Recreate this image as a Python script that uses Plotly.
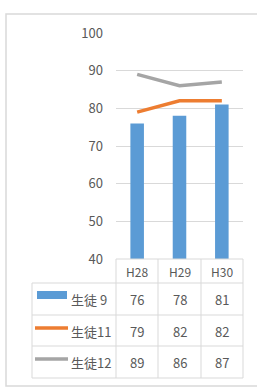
import plotly.graph_objects as go

categories = ["H28", "H29", "H30"]
series_names = ["生徒 9", "生徒11", "生徒12"]
s9 = [76, 78, 81]
s11 = [79, 82, 82]
s12 = [89, 86, 87]
y_ticks = [40, 50, 60, 70, 80, 90, 100]

W, H = 257, 392
def px(x): return x / W
def py(y): return 1 - y / H

GRID = "#d9d9d9"
TXT = "#595959"
BLUE = "#5B9BD5"
ORANGE = "#ED7D31"
GRAY = "#A5A5A5"
FONT = "Noto Sans CJK JP, Noto Sans, sans-serif"

x0, x1 = 116, 243
ytop, ybot = 33, 259

fig = go.Figure()
fig.add_trace(go.Bar(x=categories, y=s9, marker=dict(color=BLUE, line=dict(width=0)), name=series_names[0]))
fig.add_trace(go.Scatter(x=categories, y=s11, mode="lines", line=dict(color=ORANGE, width=3.5), name=series_names[1]))
fig.add_trace(go.Scatter(x=categories, y=s12, mode="lines", line=dict(color=GRAY, width=3.5), name=series_names[2]))

fig.update_layout(
    width=W, height=H, margin=dict(l=0, r=0, t=0, b=0, pad=0, autoexpand=False),
    paper_bgcolor="white", plot_bgcolor="white",
    showlegend=False, bargap=0.68,
    font=dict(family=FONT, color=TXT, size=13),
    xaxis=dict(domain=[px(x0), px(x1)], range=[-0.5, 2.5], showticklabels=False, automargin=False,
               showgrid=False, zeroline=False, showline=False, fixedrange=True),
    yaxis=dict(domain=[py(ybot), py(ytop)], range=[40, 100], tickvals=y_ticks, automargin=False,
               showgrid=True, gridcolor=GRID, gridwidth=1, zeroline=False, showline=False,
               ticks="", ticklabelstandoff=12, tickfont=dict(size=13, color=TXT), fixedrange=True),
)

shapes = []
def line(xa, ya, xb, yb, color=GRID, w=1):
    shapes.append(dict(type="line", xref="paper", yref="paper", x0=px(xa), y0=py(ya), x1=px(xb), y1=py(yb),
                       line=dict(color=color, width=w)))

shapes.append(dict(type="rect", xref="paper", yref="paper", x0=px(6), y0=py(386), x1=px(262), y1=py(14),
                   line=dict(color=GRID, width=1.5), fillcolor="rgba(0,0,0,0)", layer="below"))

rows_y = [259, 283, 315, 346, 378]
cols_x = [32, 116, 158, 201, 243]
line(116, 259, 243, 259)
for y in rows_y[1:]:
    line(32, y, 243, y)
line(32, 283, 32, 378)
for x in cols_x[1:]:
    line(x, 259, x, 378)

shapes.append(dict(type="rect", xref="paper", yref="paper", x0=px(37), y0=py(299), x1=px(67), y1=py(291),
                   fillcolor=BLUE, line=dict(width=0)))
line(35, 328, 68, 328, ORANGE, 3.5)
line(35, 359, 68, 359, GRAY, 3.5)
fig.update_layout(shapes=shapes)

ann = []
col_centers = [(cols_x[i] + cols_x[i + 1]) / 2 for i in range(1, 4)]
for c, cx in zip(categories, col_centers):
    ann.append(dict(x=px(cx), y=py(271), xref="paper", yref="paper", text=c, showarrow=False,
                    font=dict(size=12, color=TXT), xanchor="center", yanchor="middle"))
row_centers = [299, 331, 362]
for name, vals, ry in zip(series_names, [s9, s11, s12], row_centers):
    ann.append(dict(x=px(69), y=py(ry), xref="paper", yref="paper", text=name, showarrow=False,
                    font=dict(size=13, color=TXT), xanchor="left", yanchor="middle"))
    for v, cx in zip(vals, col_centers):
        ann.append(dict(x=px(cx), y=py(ry), xref="paper", yref="paper", text=str(v), showarrow=False,
                        font=dict(size=13, color=TXT), xanchor="center", yanchor="middle"))
fig.update_layout(annotations=ann)

fig.write_html("out.html", config={"displayModeBar": False},
               post_script="document.documentElement.style.margin='0';document.body.style.margin='0';document.body.style.padding='0';")
